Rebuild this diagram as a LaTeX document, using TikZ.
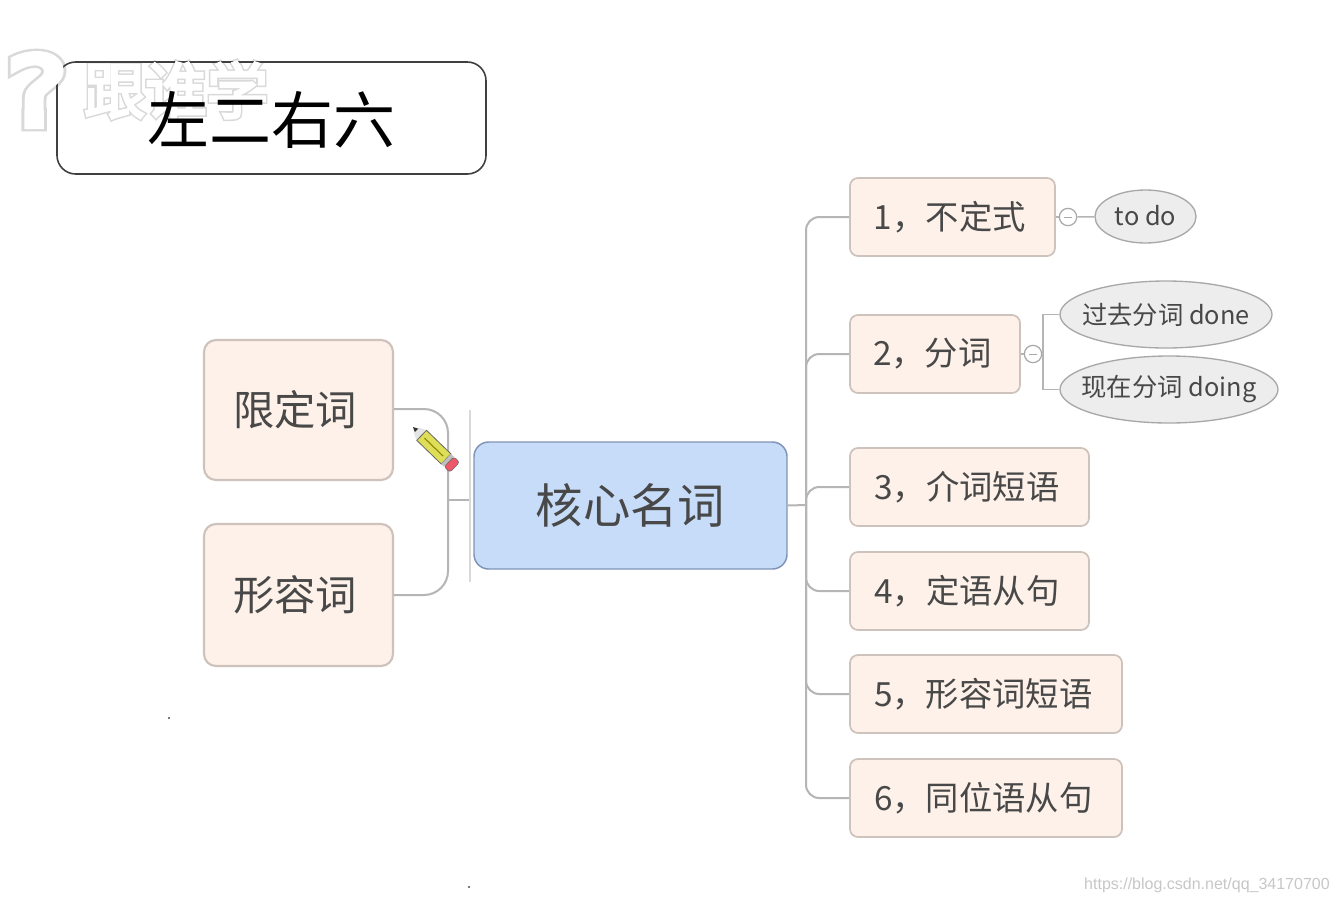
\documentclass[tikz,border=0pt]{standalone}
\usepackage{fontspec}
\setmainfont{Noto Sans CJK SC}
\newfontfamily\latinf{Liberation Sans}
\newfontfamily\wmhalo[FakeBold=9]{Noto Sans CJK SC}
\newfontfamily\wmcore[FakeBold=4]{Noto Sans CJK SC}
\newfontfamily\qhalo[FakeBold=12]{DejaVu Sans}
\newfontfamily\qcore[FakeBold=7]{DejaVu Sans}
\usetikzlibrary{shapes.geometric}
\definecolor{boxfill}{HTML}{FDF1E9}
\definecolor{boxline}{HTML}{CEC3BC}
\definecolor{corefill}{HTML}{C7DCF8}
\definecolor{coreline}{HTML}{8094B8}
\definecolor{ellfill}{HTML}{EDEDED}
\definecolor{ellline}{HTML}{A8A8A8}
\definecolor{connline}{HTML}{B5B5B5}
\definecolor{inkc}{HTML}{484848}
\definecolor{pencilbody}{HTML}{DEDE58}
\newcommand{\fs}[1]{\fontsize{#1}{#1}\selectfont}
\newcommand{\pxnode}[7]{%
  \pgfmathsetmacro{\cxx}{(#3+#5)/2}\pgfmathsetmacro{\cyy}{(#4+#6)/2}%
  \pgfmathsetmacro{\wxx}{(#5-#3)*0.75}\pgfmathsetmacro{\hyy}{(#6-#4)*0.75}%
  \node[#1,minimum width=\wxx pt,minimum height=\hyy pt] (#2) at (\cxx,\cyy) {#7};}
\tikzset{
  x=0.75pt,y=-0.75pt,
  titlebox/.style={draw=black!75,line width=1.2pt,rounded corners=14pt,inner sep=0pt},
  bigbox/.style={draw=boxline,fill=boxfill,line width=1.6pt,rounded corners=9pt,inner sep=0pt,text=inkc,font=\fs{31}},
  corebox/.style={draw=coreline,fill=corefill,line width=1.1pt,rounded corners=11pt,inner sep=0pt,text=inkc,font=\fs{35.5}},
  subbox/.style={draw=boxline,fill=boxfill,line width=1.3pt,rounded corners=6pt,inner sep=0pt,text=inkc,font=\fs{25}},
  leaf/.style={ellipse,draw=ellline,fill=ellfill,line width=1pt,inner sep=0pt,text=inkc,font=\fs{19}},
  conn/.style={draw=connline,line width=1.5pt,rounded corners=10pt},
  toggle/.style={circle,draw=ellline,fill=white,line width=0.9pt,minimum size=13pt,inner sep=0pt},
  speck/.style={circle,fill=black!70,inner sep=0pt,minimum size=1.6pt},
}
\begin{document}
\begin{tikzpicture}
\useasboundingbox (0,0) rectangle (1338,904);
\fill[white] (0,0) rectangle (1338,904);

% watermark: soft halo under the title box, white core over it
\node[text=black!15,font=\qhalo\fs{72},xscale=1.2] (qh) at (37,90) {?};
\node[text=black!15,font=\wmhalo\fs{46}] (wh) at (176,90) {跟谁学};
\pxnode{titlebox}{title}{57}{62}{486}{174}{}
\node[text=white,font=\qcore\fs{72},xscale=1.2] (qm) at (37,90) {?};
\node[text=white,font=\wmcore\fs{46}] (wm) at (176,90) {跟谁学};
\node[text=black,font=\fs{46.5}] (titletext) at (271,120) {左二右六};

% nodes
\pxnode{bigbox}{xd}{204}{340}{393}{480}{\raisebox{2pt}{\hspace*{-5pt}限定词}}
\pxnode{bigbox}{xr}{204}{524}{393}{666}{\raisebox{2pt}{\hspace*{-5pt}形容词}}
\pxnode{corebox}{core}{474}{442}{787}{569}{核心名词}
\pxnode{subbox}{n1}{850}{178}{1055}{256}{\hspace*{-4pt}1，不定式}
\pxnode{subbox}{n2}{850}{315}{1020}{393}{\hspace*{-4pt}2，分词}
\pxnode{subbox}{n3}{850}{448}{1089}{526}{\hspace*{-4pt}3，介词短语}
\pxnode{subbox}{n4}{850}{552}{1089}{630}{\hspace*{-4pt}4，定语从句}
\pxnode{subbox}{n5}{850}{655}{1122}{733}{\hspace*{-4pt}5，形容词短语}
\pxnode{subbox}{n6}{850}{759}{1122}{837}{\hspace*{-4pt}6，同位语从句}
\pxnode{leaf}{todo}{1095}{190}{1196}{243}{\raisebox{2pt}{\makebox[0pt][c]{to do}}}
\pxnode{leaf}{done}{1060}{281}{1272}{348}{\makebox[0pt][c]{过去分词 done}}
\pxnode{leaf}{doing}{1060}{356}{1278}{423}{\makebox[0pt][c]{现在分词 doing}}
\node[toggle] (t1) at (1068,217) {};
\node[toggle] (t2) at (1033,354) {};
\draw[ellline,line width=0.7pt] (t1.center)++(-4,0) -- ++(8,0);
\draw[ellline,line width=0.7pt] (t2.center)++(-4,0) -- ++(8,0);

% connector helpers
\coordinate (rtrunk) at (806,505);
\coordinate (ltrunk) at (448,500);
\coordinate (ltick) at (470,500);
\coordinate (sp2) at (1043,354);
\coordinate (bartop) at (470,410);
\coordinate (barbot) at (470,582);

% right tree
\draw[conn] (core.east) -- (rtrunk);
\draw[conn] (n1.west) -- (n1.west -| rtrunk) -- (rtrunk);
\draw[conn] (n2.west) -- (n2.west -| rtrunk) -- (rtrunk);
\draw[conn] (n3.west) -- (n3.west -| rtrunk) -- (rtrunk);
\draw[conn] (n4.west) -- (n4.west -| rtrunk) -- (rtrunk);
\draw[conn] (n5.west) -- (n5.west -| rtrunk) -- (rtrunk);
\draw[conn] (n6.west) -- (n6.west -| rtrunk) -- (rtrunk);

% left tree
\draw[conn,rounded corners=18pt] (xd.east |- 0,409) -- (ltrunk |- 0,409) -- (ltrunk);
\draw[conn,rounded corners=18pt] (xr.east) -- (ltrunk |- xr.east) -- (ltrunk);
\draw[conn] (ltrunk) -- (ltick);
\draw[black!15,line width=0.8pt] (bartop) -- (barbot);

% leaf connectors
\draw[conn,line width=1.2pt] (n1.east) -- (t1);
\draw[conn,line width=1.2pt] (t1) -- (todo);
\draw[conn,line width=1.2pt] (n2.east) -- (t2);
\draw[conn,line width=1.2pt,rounded corners=0pt] (t2) -- (sp2);
\draw[conn,line width=1.2pt,rounded corners=0pt] (done.west) -- (done.west -| sp2) -- (doing.west -| sp2) -- (doing.west);

% pencil
\begin{scope}[shift={(413,427)},rotate=-44]
  \fill[black!80] (0,0) -- (7,-3.5) -- (7,3.5) -- cycle;
  \fill[black!10] (5,-4) -- (12,-7) -- (12,7) -- (5,4) -- cycle;
  \fill[pencilbody,draw=black!60,line width=0.6pt] (12,-7) rectangle (46,7);
  \draw[olive,line width=0.8pt] (16,0) -- (42,0);
  \fill[black!25] (46,-7) rectangle (50,7);
  \fill[red!60!purple!65,draw=black!60,line width=0.4pt,rounded corners=2pt] (50,-7) rectangle (58,7);
\end{scope}

% specks and footer watermark
\node[speck] (s1) at (169,718) {};
\node[speck] (s2) at (469,887) {};
\node[anchor=east,inner sep=0pt,text=black!22,font=\latinf\fs{12}] (url) at (1330,885) {https://blog.csdn.net/qq\_34170700};
\end{tikzpicture}
\end{document}
